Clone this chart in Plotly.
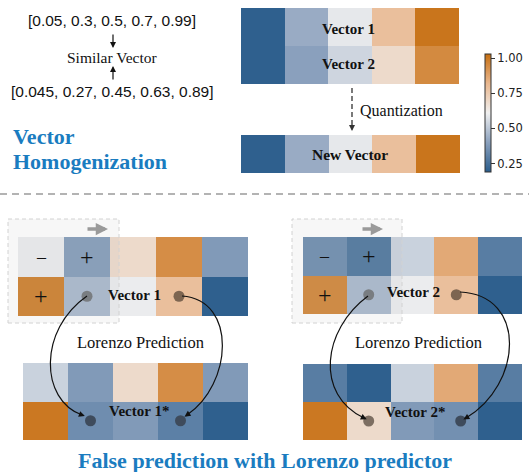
import plotly.graph_objects as go

# ---------------- data ----------------
vec_a = [0.05, 0.3, 0.5, 0.7, 0.99]
vec_b = [0.045, 0.27, 0.45, 0.63, 0.89]

vectors_12 = [[0.20, 0.43, 0.59, 0.79, 1.01],
              [0.20, 0.40, 0.54, 0.69, 0.95]]
new_vector = [[0.20, 0.43, 0.59, 0.79, 1.01]]

lorenzo1_top = [[0.60, 0.38, 0.69, 0.94, 0.38],
                [0.99, 0.46, 0.60, 0.79, 0.20]]
lorenzo1_bot = [[0.53, 0.38, 0.69, 0.94, 0.38],
                [1.00, 0.34, 0.38, 0.30, 0.20]]
lorenzo2_top = [[0.33, 0.26, 0.53, 0.86, 0.29],
                [0.97, 0.46, 0.60, 0.79, 0.20]]
lorenzo2_bot = [[0.29, 0.20, 0.53, 0.86, 0.29],
                [1.00, 0.69, 0.38, 0.35, 0.20]]

cbar_ticks = [0.25, 0.50, 0.75, 1.00]
cbar_labels = ['0.25', '0.50', '0.75', '1.00']
cmin, cmax = 0.19, 1.03

# ---------------- helpers ----------------
W, H = 529, 472
def X(p):
    return p / W
def Y(p):
    return 1 - p / H

colorscale = [[0.0, '#2a5d8c'], [0.25, '#8aa0bd'], [0.5, '#f0f0f0'],
              [0.75, '#e9b78e'], [1.0, '#c66e10']]

fig = go.Figure()

# axes boxes in pixels: (x0, x1, y0, y1)
boxes = {
    1: (241, 459, 8, 84),
    2: (241, 460, 135, 173),
    3: (18, 248, 237, 316),
    4: (23, 248, 363, 440),
    5: (303, 522, 237, 314),
    6: (303, 522, 364, 440),
}
grids = {1: vectors_12, 2: new_vector, 3: lorenzo1_top, 4: lorenzo1_bot,
         5: lorenzo2_top, 6: lorenzo2_bot}

layout_axes = {}
for i, (x0, x1, y0, y1) in boxes.items():
    sfx = '' if i == 1 else str(i)
    z = grids[i]
    fig.add_trace(go.Heatmap(z=z, coloraxis='coloraxis', xaxis='x' + sfx, yaxis='y' + sfx,
                             hoverinfo='skip'))
    nrows = len(z)
    layout_axes['xaxis' + sfx] = dict(domain=[X(x0), X(x1)], range=[-0.5, 4.5], visible=False,
                                      anchor='y' + sfx, fixedrange=True)
    layout_axes['yaxis' + sfx] = dict(domain=[Y(y1), Y(y0)], range=[nrows - 0.5, -0.5], visible=False,
                                      anchor='x' + sfx, fixedrange=True)

# dots on cells
dot_sets = [
    ('3', [1, 3], [1, 1], ['#6f7378', '#7d6551']),
    ('4', [1, 3], [1, 1], ['#3e4b5c', '#3e4b5c']),
    ('5', [1, 3], [1, 1], ['#6f7378', '#7d6551']),
    ('6', [1, 3.1], [1, 1], ['#7d6e62', '#3e4b5c']),
]
for sfx, xs, ys, cols in dot_sets:
    fig.add_trace(go.Scatter(x=xs, y=ys, xaxis='x' + sfx, yaxis='y' + sfx, mode='markers',
                             marker=dict(size=11, color=cols), hoverinfo='skip', showlegend=False))

fig.update_layout(**layout_axes)

serif = 'Liberation Serif'
sans = 'Liberation Sans'
blue = '#1a7cc0'

ann = []
def txt(x, y, s, size, family=serif, color='#111', xanchor='center', xref='paper', yref='paper'):
    ann.append(dict(x=x, y=y, xref=xref, yref=yref, text=s, showarrow=False,
                    font=dict(family=family, size=size, color=color), xanchor=xanchor,
                    yanchor='middle'))

def arrow(hx, hy, tx, ty, color='#111', width=1.2, head=2, size=1.0):
    ann.append(dict(x=X(hx), y=Y(hy), xref='paper', yref='paper', text='', showarrow=True,
                    ax=tx - hx, ay=ty - hy, axref='pixel', ayref='pixel',
                    arrowhead=head, arrowsize=size, arrowwidth=width, arrowcolor=color,
                    standoff=0, startstandoff=0))

fmt = lambda v: '[' + ', '.join(str(a) for a in v) + ']'
txt(X(112), Y(20), fmt(vec_a), 15.5, family=sans)
txt(X(112), Y(91), fmt(vec_b), 15.5, family=sans)
txt(X(112), Y(57), 'Similar Vector', 15.5)
arrow(113, 48, 113, 33)
arrow(113, 66, 113, 81)

txt(X(11), Y(136), '<b>Vector</b>', 22, color=blue, xanchor='left')
txt(X(11), Y(161), '<b>Homogenization</b>', 22, color=blue, xanchor='left')

txt(X(348), Y(29), '<b>Vector 1</b>', 15)
txt(X(348), Y(64), '<b>Vector 2</b>', 15)
txt(X(350), Y(154), '<b>New Vector</b>', 15.5)
txt(X(358), Y(110), 'Quantization', 16, xanchor='left')

# plus / minus signs
for sfx in ('3', '5'):
    for (cx, cy, s, fs) in [(0, 0, '–', 18), (1, 0, '+', 24), (0, 1, '+', 24)]:
        txt(cx, cy, s, fs, xref='x' + sfx, yref='y' + sfx)

txt(X(134), Y(295), '<b>Vector 1</b>', 15)
txt(X(139), Y(411), '<b>Vector 1*</b>', 15)
txt(X(413), Y(292), '<b>Vector 2</b>', 15)
txt(X(415), Y(412), '<b>Vector 2*</b>', 15)
txt(X(140), Y(342), 'Lorenzo Prediction', 16.5)
txt(X(418), Y(342), 'Lorenzo Prediction', 16.5)

txt(X(265), Y(460), '<b>False prediction with Lorenzo predictor</b>', 22, color=blue)

# gray direction arrows
arrow(108, 229, 86, 229, color='#9a9a9a', width=3.5, head=2, size=0.7)
arrow(383, 229, 361, 229, color='#9a9a9a', width=3.5, head=2, size=0.7)

shapes = []
# separator
shapes.append(dict(type='line', xref='paper', yref='paper', x0=0, x1=1, y0=Y(194), y1=Y(194),
                   line=dict(color='#9a9a9a', width=1.5, dash='7px,5px')))
# quantization dashed arrow
shapes.append(dict(type='line', xref='paper', yref='paper', x0=X(352), x1=X(352), y0=Y(88), y1=Y(126),
                   line=dict(color='#333', width=1.3, dash='5px,3px')))
arrow(352, 131, 352, 125, color='#333', width=1.2, head=2, size=1.0)

# dashed boxes
for (bx0, bx1) in [(8, 119), (292, 402)]:
    shapes.append(dict(type='rect', xref='paper', yref='paper', x0=X(bx0), x1=X(bx1), y0=Y(323), y1=Y(219),
                       line=dict(color='#d2d2d2', width=1, dash='4px,3px'),
                       fillcolor='rgba(190,190,190,0.13)', layer='above'))

# curved arrows
def curve(p0, c1, c2, p1):
    path = 'M {},{} C {},{} {},{} {},{}'.format(X(p0[0]), Y(p0[1]), X(c1[0]), Y(c1[1]),
                                                  X(c2[0]), Y(c2[1]), X(p1[0]), Y(p1[1]))
    shapes.append(dict(type='path', xref='paper', yref='paper', path=path,
                       line=dict(color='#111', width=1.2), layer='above'))
    dx, dy = p1[0] - c2[0], p1[1] - c2[1]
    n = (dx * dx + dy * dy) ** 0.5
    arrow(p1[0] + dx / n * 3, p1[1] + dy / n * 3, p1[0] - dx / n * 4, p1[1] - dy / n * 4)

curve((87, 296), (38, 330), (40, 400), (82, 415))
curve((182, 296), (238, 300), (232, 385), (187, 415))
curve((368, 296), (322, 330), (315, 395), (364, 418))
curve((460, 292), (528, 295), (522, 385), (466, 418))

fig.update_layout(
    width=W, height=H, margin=dict(l=0, r=0, t=0, b=0),
    paper_bgcolor='white', plot_bgcolor='white', showlegend=False,
    annotations=ann, shapes=shapes,
    coloraxis=dict(colorscale=colorscale, cmin=cmin, cmax=cmax,
                   colorbar=dict(x=X(485), xanchor='left', y=Y(54), yanchor='top',
                                 len=118 / H, lenmode='fraction', thickness=6,
                                 xpad=0, ypad=0, outlinewidth=1, outlinecolor='#333',
                                 tickmode='array', tickvals=cbar_ticks, ticktext=cbar_labels,
                                 ticks='outside', ticklen=4, tickcolor='#333',
                                 tickfont=dict(family='DejaVu Sans', size=11.5, color='#222'))),
)

fig.write_html('out.html', config={'displayModeBar': False},
               post_script="document.body.style.margin='0';document.body.style.overflow='hidden';")
